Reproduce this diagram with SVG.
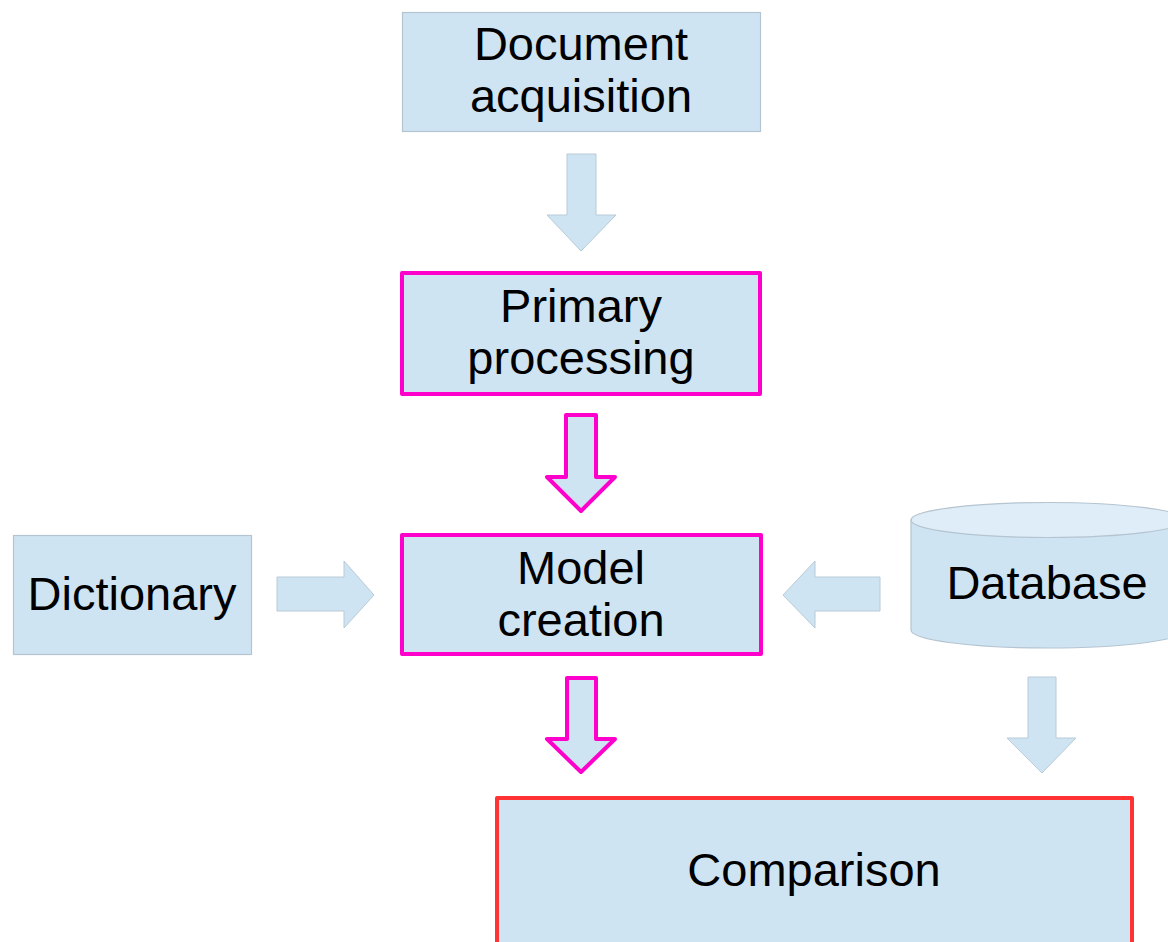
<svg xmlns="http://www.w3.org/2000/svg" width="1168" height="942" viewBox="0 0 1168 942">
  <style>
    .box { fill: #cfe4f2; stroke: #b4c4d0; stroke-width: 1.2; }
    .hot { fill: #cfe4f2; stroke: #ff00cc; stroke-width: 4; stroke-linejoin: round; }
    .cmp { fill: #cfe4f2; stroke: #ff3333; stroke-width: 4; stroke-linejoin: round; }
    .arr { fill: #cfe4f2; stroke: #b8cad6; stroke-width: 1; }
    .harr { fill: #cfe4f2; stroke: #ff00cc; stroke-width: 4; stroke-linejoin: round; }
    .lbl { font-family: "Liberation Sans", Arial, sans-serif; font-size: 47px; fill: #000; text-anchor: middle; }
  </style>
  <rect width="1168" height="942" fill="#ffffff"/>

  <g id="node-document-acquisition">
    <rect class="box" x="402.5" y="12.5" width="358" height="119"/>
    <text class="lbl" x="581" y="60">Document</text>
    <text class="lbl" x="581" y="112">acquisition</text>
  </g>

  <g id="node-primary-processing">
    <rect class="hot" x="402" y="273" width="358" height="121"/>
    <text class="lbl" x="581" y="322">Primary</text>
    <text class="lbl" x="581" y="374">processing</text>
  </g>

  <g id="node-dictionary">
    <rect class="box" x="13.5" y="535.5" width="238" height="119"/>
    <text class="lbl" x="132" y="610">Dictionary</text>
  </g>

  <g id="node-model-creation">
    <rect class="hot" x="402" y="535" width="359" height="119"/>
    <text class="lbl" x="581" y="584">Model</text>
    <text class="lbl" x="581" y="636">creation</text>
  </g>

  <g id="node-database">
    <path class="box" d="M911,520 L911,630 A137,18 0 0 0 1185,630 L1185,520 Z"/>
    <ellipse cx="1048" cy="520" rx="137" ry="17.5" fill="#deedf7" stroke="#b4c4d0" stroke-width="1.2"/>
    <text class="lbl" x="1047" y="599">Database</text>
  </g>

  <g id="node-comparison">
    <rect class="cmp" x="497" y="798" width="635" height="160"/>
    <text class="lbl" x="814" y="886">Comparison</text>
  </g>

  <g id="connectors">
    <!-- document acquisition to primary processing -->
    <polygon class="arr" points="567,154 596,154 596,215 616,215 581,251 547,215 567,215"/>
    <!-- primary processing to model creation -->
    <polygon class="harr" points="566,415 596,415 596,477 615,477 581,511 547,477 566,477"/>
    <!-- dictionary to model creation -->
    <polygon class="arr" points="277,577 344,577 344,561 374,595 344,628 344,611 277,611"/>
    <!-- database to model creation -->
    <polygon class="arr" points="880,577 815,577 815,561 783,595 815,628 815,611 880,611"/>
    <!-- model creation to comparison -->
    <polygon class="harr" points="567,678 596,678 596,739 615,739 581,772 547,739 567,739"/>
    <!-- database to comparison -->
    <polygon class="arr" points="1028,677 1056,677 1056,738 1076,738 1042,773 1007,738 1028,738"/>
  </g>
</svg>
